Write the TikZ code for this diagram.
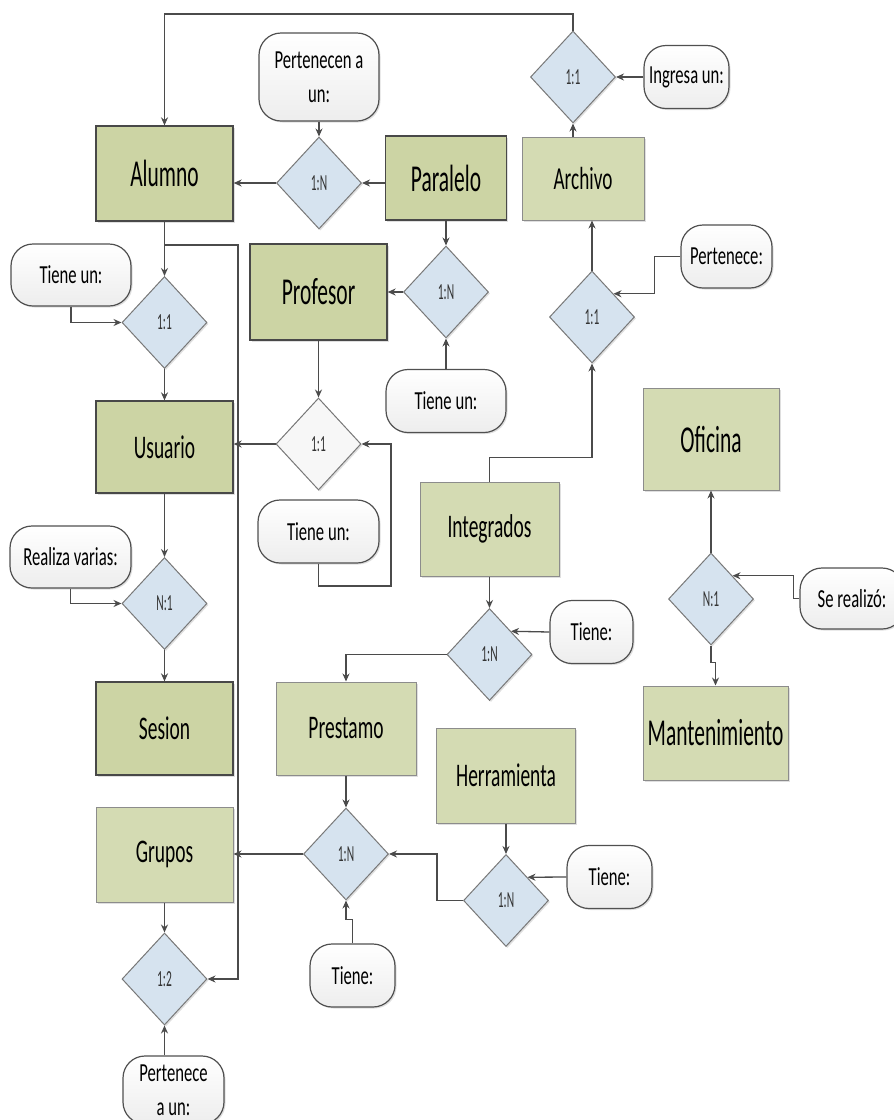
\documentclass[tikz,border=0pt]{standalone}
\usepackage{fontspec}
\setmainfont{Carlito}
\usetikzlibrary{shapes.geometric,arrows.meta,shadows}
\definecolor{entdark}{RGB}{204,212,164}
\definecolor{entlight}{RGB}{212,219,179}
\definecolor{entbd}{RGB}{72,72,72}
\definecolor{entlbd}{RGB}{140,140,140}
\definecolor{diafill}{RGB}{214,227,239}
\definecolor{diabd}{RGB}{120,120,120}
\definecolor{labbd}{RGB}{80,80,80}
\definecolor{linec}{RGB}{75,75,75}
\newcommand\sqz[2]{\scalebox{#1}[1]{#2}}
\begin{document}
\begin{tikzpicture}[x=1pt,y=-1pt,
  shd/.style={drop shadow={shadow xshift=1.5pt,shadow yshift=-1.5pt,opacity=0.25,fill=gray}},
  entd/.style={rectangle,draw=entbd,line width=1.3pt,fill=entdark,inner sep=0pt,
    minimum width=137pt,minimum height=95pt,shd},
  entl/.style={entd,draw=entlbd,line width=1pt,fill=entlight},
  big/.style={font=\fontsize{38}{40}\selectfont},
  sml/.style={font=\fontsize{33}{36}\selectfont},
  rel/.style={diamond,draw=diabd,line width=1pt,fill=diafill,inner sep=0pt,
    minimum width=85pt,minimum height=92pt,font=\fontsize{23}{25}\selectfont,
    text=black!80,shd},
  lab/.style={rectangle,rounded corners=22pt,draw=labbd,line width=1.2pt,
    top color=white,bottom color=gray!14,inner sep=0pt,minimum width=120pt,
    minimum height=63pt,align=center,font=\fontsize{26}{34}\selectfont,shd},
  ln/.style={draw=linec,line width=1.3pt},
  arr/.style={ln,-{Stealth[length=8pt,width=7pt]}}
]
\useasboundingbox[fill=white] (0,0) rectangle (894,1120);

% entities
\node[entd,big] (alumno) at (164.5,173.5) {\sqz{0.565}{Alumno}};
\node[entd,big,minimum width=121pt,minimum height=84pt] (paralelo) at (446,178) {\sqz{0.565}{Paralelo}};
\node[entd,big,minimum height=96pt] (profesor) at (318.5,292) {\sqz{0.565}{Profesor}};
\node[entd,sml,minimum height=92pt] (usuario) at (164.5,447) {\sqz{0.59}{Usuario}};
\node[entd,sml,minimum height=93pt] (sesion) at (164.5,728.5) {\sqz{0.59}{Sesion}};
\node[entl,sml,font=\fontsize{32}{34}\selectfont,minimum width=122pt,minimum height=83pt] (archivo) at (583,178.5) {\sqz{0.6}{Archivo}};
\node[entl,sml,minimum width=139pt,minimum height=94pt] (integrados) at (489.5,529) {\sqz{0.59}{Integrados}};
\node[entl,big,minimum width=136pt,minimum height=102pt] (oficina) at (711,439) {\sqz{0.565}{Oficina}};
\node[entl,big,minimum width=145pt,minimum height=94pt] (mantenimiento) at (715.5,733) {\sqz{0.565}{Mantenimiento}};
\node[entl,sml,minimum width=140pt,minimum height=93pt] (prestamo) at (346,728.5) {\sqz{0.59}{Prestamo}};
\node[entl,sml,minimum width=139pt,minimum height=95pt] (herramienta) at (506,775.5) {\sqz{0.59}{Herramienta}};
\node[entl,sml] (grupos) at (164.5,854.5) {\sqz{0.59}{Grupos}};

% relationships
\node[rel] (d1) at (573,77) {\sqz{0.5}{1:1}};
\node[rel] (d2) at (319,183) {\sqz{0.5}{1:N}};
\node[rel] (d3) at (446,292) {\sqz{0.5}{1:N}};
\node[rel] (d4) at (592,317) {\sqz{0.5}{1:1}};
\node[rel] (d5) at (164.5,322.5) {\sqz{0.5}{1:1}};
\node[rel,fill=gray!6] (d6) at (318.5,444) {\sqz{0.5}{1:1}};
\node[rel] (d7) at (164.5,603.5) {\sqz{0.5}{N:1}};
\node[rel] (d8) at (711,599) {\sqz{0.5}{N:1}};
\node[rel] (d9) at (489.5,654.5) {\sqz{0.5}{1:N}};
\node[rel] (d10) at (346,854) {\sqz{0.5}{1:N}};
\node[rel] (d11) at (506,900.5) {\sqz{0.5}{1:N}};
\node[rel] (d12) at (164.5,979) {\sqz{0.5}{1:2}};

% labels
\node[lab,minimum width=85pt] (l1) at (686.5,77) {\sqz{0.64}{Ingresa un:}};
\node[lab,minimum height=88pt] (l2) at (319,77) {\sqz{0.64}{Pertenecen a}\\\sqz{0.64}{un:}};
\node[lab,minimum width=91pt] (l3) at (726.5,256.5) {\sqz{0.64}{Pertenece:}};
\node[lab,minimum height=62pt] (l4) at (71,275) {\sqz{0.64}{Tiene un:}};
\node[lab] (l5) at (446,401) {\sqz{0.64}{Tiene un:}};
\node[lab,minimum width=121pt] (l6) at (318.5,531.5) {\sqz{0.64}{Tiene un:}};
\node[lab,minimum width=121pt,minimum height=62pt] (l7) at (70.5,557) {\sqz{0.64}{Realiza varias:}};
\node[lab,minimum width=104pt,minimum height=61pt] (l8) at (852,598.5) {\sqz{0.64}{Se realizó:}};
\node[lab,minimum width=83pt] (l9) at (591.5,632) {\sqz{0.64}{Tiene:}};
\node[lab,minimum width=85pt] (l10) at (609.5,877) {\sqz{0.64}{Tiene:}};
\node[lab,minimum width=85pt] (l11) at (352.5,975.5) {\sqz{0.64}{Tiene:}};
\node[lab,minimum width=101pt,minimum height=68pt] (l12) at (173.5,1090) {\sqz{0.64}{Pertenece}\\\sqz{0.64}{a un:}};

% helper coordinates
\coordinate (tl) at (164.5,14);
\coordinate (bus) at (238,245);
\coordinate (c6) at (391,586);

% connectors
\draw[arr] (d1.north) |- (tl) -- (alumno.north);
\draw[arr] (d1 |- archivo.north) -- (d1.south);
\draw[arr] (l1.west) -- (d1.east);
\draw[arr] (l2.south) -- (d2.north);
\draw[arr] (d2.west) -- (d2.west -| alumno.east);
\draw[arr] (d2.east -| paralelo.west) -- (d2.east);
\draw[arr] (paralelo.south) -- (d3.north);
\draw[arr] (d3.west) -- (d3.west -| profesor.east);
\draw[arr] (l5.north) -- (d3.south);
\draw[arr] (d4.north) -- (d4.north |- archivo.south);
\draw[arr] (l3.west) -- ++(-26,0) |- (d4.north east);
\draw[arr] (integrados.north) -- ++(0,-24) -| (d4.south);
\draw[arr] (alumno.south) -- (d5.north);
\draw[arr] (d5.south) -- (usuario.north);
\draw[arr] (l4.south) |- (d5.west);
\draw[arr] (alumno.south) |- (bus) |- (d12.east);
\draw[arr] (profesor.south) -- (d6.north);
\draw[arr] (d6.west) -- (d6.west -| usuario.east);
\draw[arr] (l6.south) |- (c6) |- (d6.east);
\draw[arr] (usuario.south) -- (d7.north);
\draw[arr] (d7.south) -- (sesion.north);
\draw[arr] (l7.south) |- (d7.west);
\draw[arr] (d8.north) -- (oficina.south);
\draw[arr] (d8.south) -- ++(0,17) -| (mantenimiento.north);
\draw[arr] (l8.west) -- ++(-6,0) |- (d8.north east);
\draw[arr] (integrados.south) -- (d9.north);
\draw[arr] (l9.west) -- (d9.north east);
\draw[arr] (d9.west) -| (prestamo.north);
\draw[arr] (prestamo.south) -- (d10.north);
\draw[arr] (herramienta.south) -- (d11.north);
\draw[arr] (l10.west) -- (d11.north east);
\draw[arr] (d11.west) -- ++(-26,0) |- (d10.east);
\draw[arr] (l11.north) -- ++(0,-24) -| (d10.south);
\draw[arr] (d10.west) -- (d10.west -| grupos.east);
\draw[arr] (grupos.south) -- (d12.north);
\draw[arr] (d12.south |- l12.north) -- (d12.south);
\end{tikzpicture}
\end{document}
